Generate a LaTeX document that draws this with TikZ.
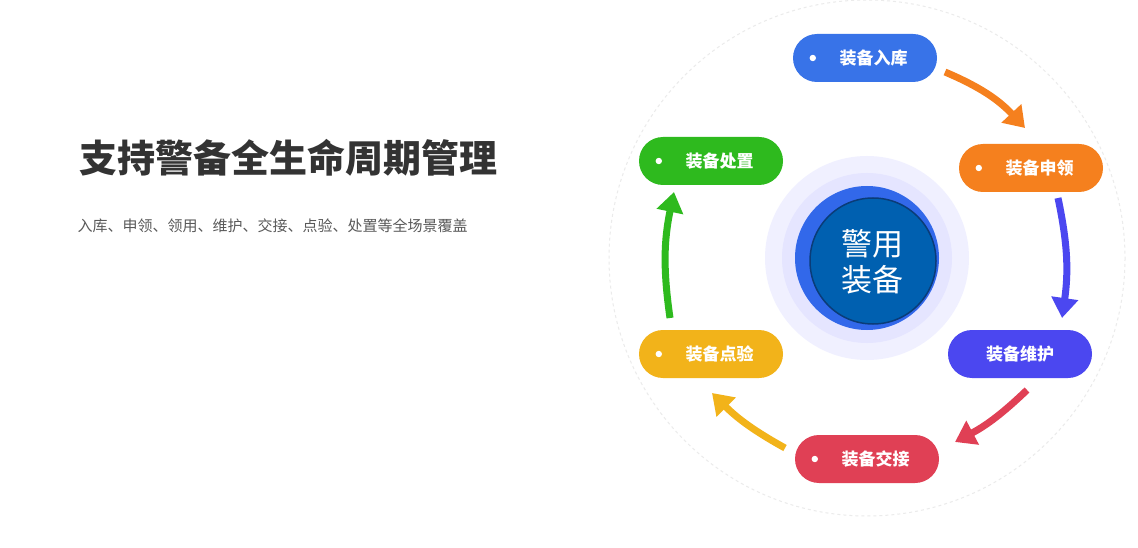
\documentclass[tikz,border=0pt]{standalone}
\usepackage{fontspec}
\setmainfont{Noto Sans CJK SC}
\usetikzlibrary{arrows.meta}
\definecolor{cA}{HTML}{3873E8}
\definecolor{cB}{HTML}{F5801E}
\definecolor{cC}{HTML}{4B47F0}
\definecolor{cD}{HTML}{E04055}
\definecolor{cE}{HTML}{F2B31A}
\definecolor{cF}{HTML}{2EBA1E}
\definecolor{cIn}{HTML}{0060B0}
\definecolor{cInB}{HTML}{0A3C78}
\begin{document}
\begin{tikzpicture}[x=1pt,y=-1pt,
  pill/.style={rounded corners=24pt,minimum width=144pt,minimum height=48pt,text=white,font=\fontsize{17}{17}\selectfont\bfseries,inner sep=0pt},
  arr/.style={line width=7pt,-{Triangle[length=20pt,width=26pt]}}]
\useasboundingbox (0,0) rectangle (1138,548);
\fill[white] (0,0) rectangle (1138,548);
\node[anchor=west,text=black!80,font=\fontsize{38}{38}\selectfont\bfseries] (title) at (76,158) {支持警备全生命周期管理};
\node[anchor=west,text=black!65,font=\fontsize{15}{15}\selectfont] (sub) at (74,226) {入库、申领、领用、维护、交接、点验、处置等全场景覆盖};
\draw[dashed,black!8,line width=1pt] (867,258) circle (258);
\fill[blue!6] (867,258) circle (102);
\fill[blue!10] (867,258) circle (85);
\fill[cA!90!blue] (867,258) circle (72);
\fill[cIn,draw=cInB,line width=1.5pt] (873,261) circle (63);
\node[text=white,align=center,font=\fontsize{31}{36}\selectfont] (ct) at (872,262) {警用\\装备};
\node[pill,fill=cA] (n1) at (865,58) {\quad 装备入库};
\node[pill,fill=cB] (n2) at (1031,168) {\quad 装备申领};
\node[pill,fill=cC] (n3) at (1020,354) {装备维护};
\node[pill,fill=cD] (n4) at (867,459) {\quad 装备交接};
\node[pill,fill=cE] (n5) at (711,354) {\quad 装备点验};
\node[pill,fill=cF] (n6) at (711,161) {\quad 装备处置};
\foreach \n in {n1,n2,n4,n5,n6}{\fill[white] ([xshift=20pt]\n.west) circle (3.2pt);}
\draw[arr,cB] (945,72) to[bend left=12] (1025,128);
\draw[arr,cC] (1058,198) to[bend left=10] (1062,318);
\draw[arr,cD] (1027,390) to[bend left=8] (955,442);
\draw[arr,cE] (785,448) to[bend left=8] (712,393);
\draw[arr,cF] (670,318) to[bend left=10] (674,192);
\end{tikzpicture}
\end{document}
